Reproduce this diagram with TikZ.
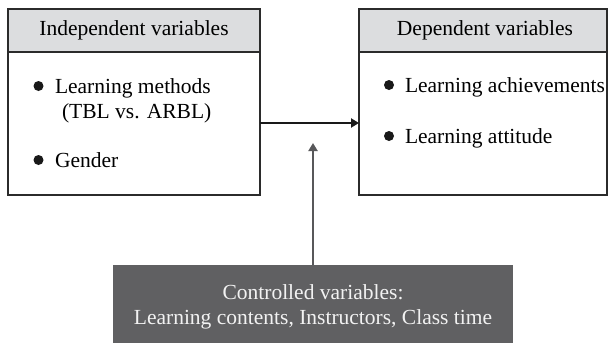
\documentclass[tikz,border=0pt]{standalone}
\usepackage{fontspec}
\setmainfont{Liberation Serif}
\usetikzlibrary{arrows.meta}
\definecolor{hdrgray}{HTML}{DCDDDF}
\definecolor{boxline}{HTML}{2B2B2B}
\definecolor{ctrlgray}{HTML}{606062}
\definecolor{ctrltext}{HTML}{F2F2F2}
\definecolor{arrgray}{HTML}{58585A}
\begin{document}
\begin{tikzpicture}[x=1pt,y=-1pt,
  every node/.style={font=\fontsize{21.5}{25}\selectfont, inner sep=0pt, outer sep=0pt},
  varbox/.style={draw=boxline, line width=1.2pt, fill=white, rectangle},
  hdrbox/.style={draw=boxline, line width=1.2pt, fill=hdrgray, rectangle},
  itemtext/.style={anchor=base west, text=black},
  bul/.style={circle, fill=black!90, minimum size=10pt},
  ctrlbox/.style={fill=ctrlgray, rectangle, text=ctrltext, align=center},
  mainarrow/.style={line width=2.8pt, draw=black!90, -{Triangle[length=8pt,width=9pt]}},
  ctrlarrow/.style={line width=2.8pt, draw=arrgray, -{Triangle[length=8pt,width=9pt]}}
]
\useasboundingbox (0,0) rectangle (608,343);
% left box
\node[varbox, minimum width=252pt, minimum height=186pt] (L) at (134,102) {};
\node[hdrbox, minimum width=252pt, minimum height=43pt] (LH) at (134,30.5) {};
\node[anchor=base] (LHt) at (134,35) {Independent variables};
\node[bul] (b1) at (38.5,86) {};
\node[itemtext] (t1) at (55,93) {Learning methods};
\node[itemtext] (t1b) at (62,118) {(TBL vs. ARBL)};
\node[bul] (b2) at (38.5,160) {};
\node[itemtext] (t2) at (55,167) {Gender};
% right box
\node[varbox, minimum width=248pt, minimum height=186pt] (R) at (483,102) {};
\node[hdrbox, minimum width=248pt, minimum height=43pt] (RH) at (483,30.5) {};
\node[anchor=base] (RHt) at (485,35) {Dependent variables};
\node[bul] (b3) at (389,85) {};
\node[itemtext] (t3) at (405,92) {Learning achievements};
\node[bul] (b4) at (389,136) {};
\node[itemtext] (t4) at (405,143) {Learning attitude};
% controlled box
\node[ctrlbox, minimum width=400pt, minimum height=78pt] (C) at (313,304) {};
\node[anchor=base, text=ctrltext] (Ct1) at (313,299) {Controlled variables:};
\node[anchor=base, text=ctrltext] (Ct2) at (313,324) {Learning contents, Instructors, Class time};
% arrows
\coordinate (A) at (0,123);
\coordinate (V) at (313,143);
\draw[mainarrow] (L.east |- A) -- (R.west |- A);
\draw[ctrlarrow] (C.north) -- (V);
\end{tikzpicture}
\end{document}
